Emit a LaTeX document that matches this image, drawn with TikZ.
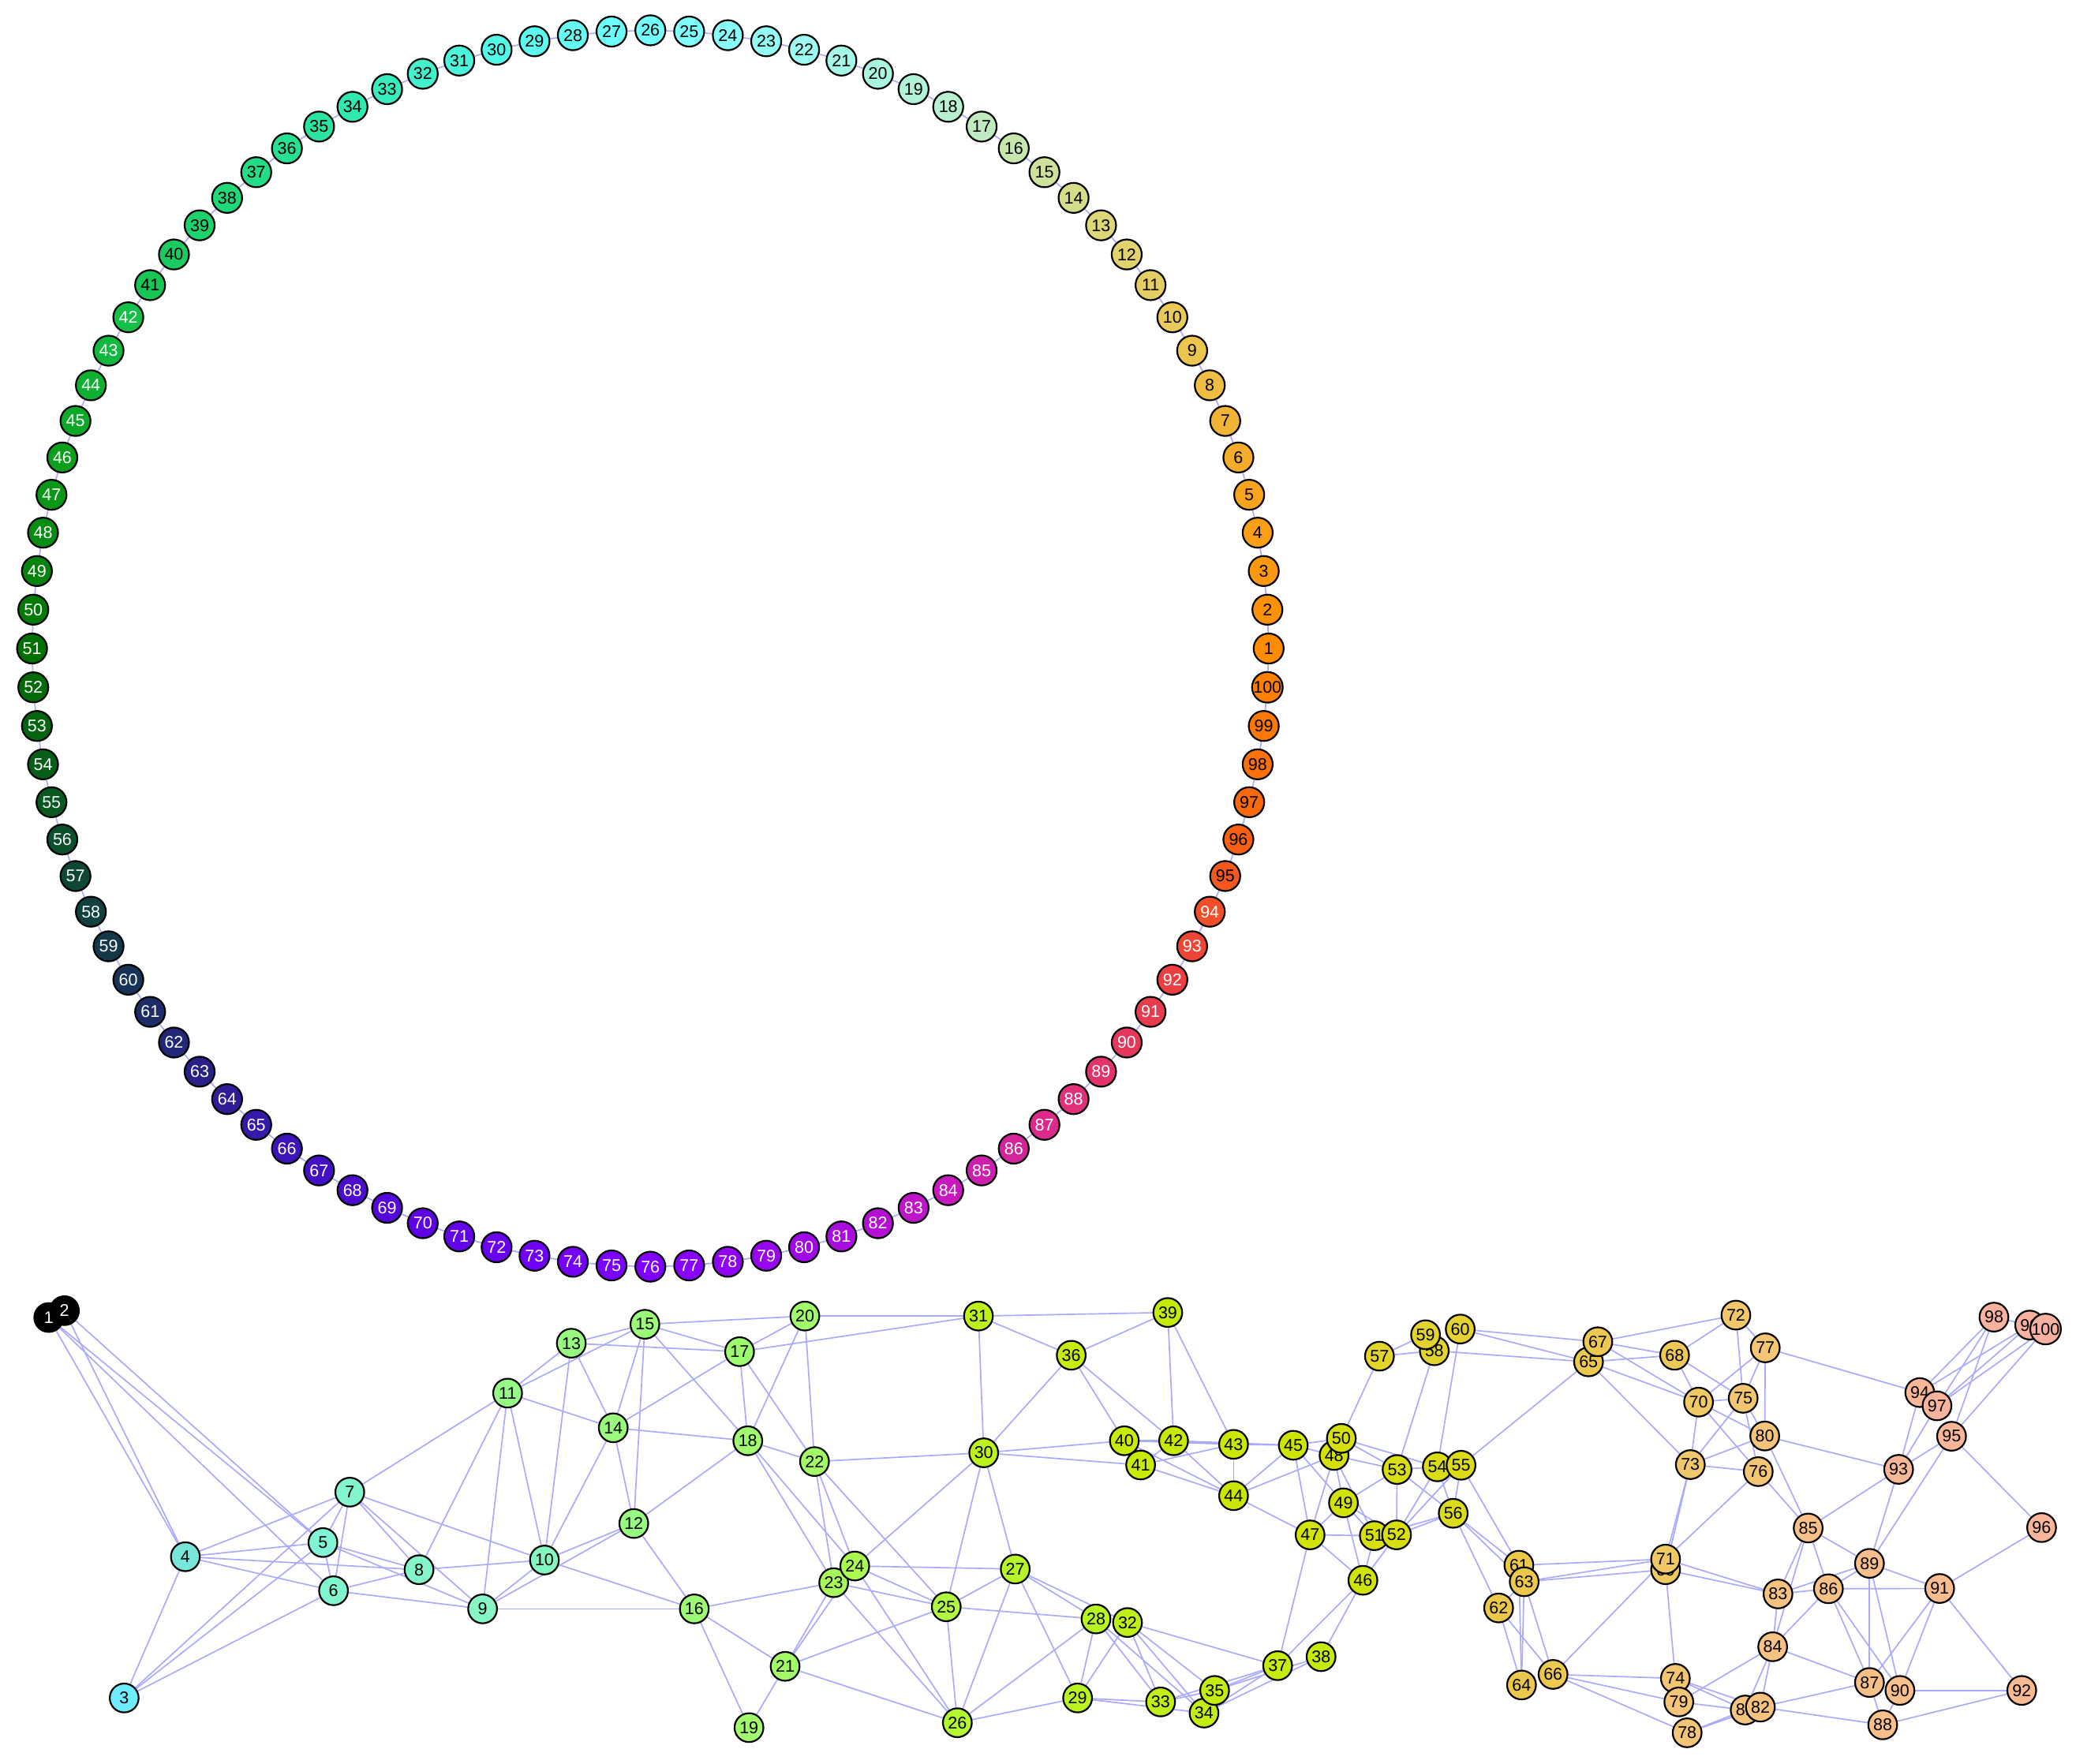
\documentclass[tikz,border=0pt]{standalone}
\usepackage{fontspec}
\setmainfont{Liberation Sans}
\pgfdeclarelayer{bglayer}
\pgfdeclarelayer{edgelayer}
\pgfsetlayers{bglayer,edgelayer,main}
\newcommand\ndfont{\fontsize{12.8}{12.8}\selectfont}
\definecolor{edgec}{RGB}{170,170,252}
% ring colours
\definecolor{R1}{HTML}{FF8C00}\definecolor{R5}{HTML}{F8A41E}\definecolor{R9}{HTML}{ECC450}
\definecolor{R13}{HTML}{DCD878}\definecolor{R18}{HTML}{B8F0D0}\definecolor{R22}{HTML}{9CFAF0}
\definecolor{R26}{HTML}{74FFFF}\definecolor{R30}{HTML}{54F8E8}\definecolor{R34}{HTML}{30E8B0}
\definecolor{R38}{HTML}{20D878}\definecolor{R42}{HTML}{14C048}\definecolor{R46}{HTML}{0CA01E}
\definecolor{R51}{HTML}{007000}\definecolor{R55}{HTML}{085820}\definecolor{R59}{HTML}{143848}
\definecolor{R63}{HTML}{282288}\definecolor{R66}{HTML}{3C14B8}\definecolor{R70}{HTML}{5C04E4}
\definecolor{R76}{HTML}{8000FF}\definecolor{R80}{HTML}{A008E8}\definecolor{R84}{HTML}{C818C0}
\definecolor{R88}{HTML}{E03078}\definecolor{R92}{HTML}{EA3E40}\definecolor{R96}{HTML}{F66014}
\definecolor{R100}{HTML}{FF8000}
% graph colours
\definecolor{G3}{HTML}{70ECFF}\definecolor{G4}{HTML}{78E6D8}\definecolor{G5}{HTML}{80F4D4}
\definecolor{G10}{HTML}{86F6C0}\definecolor{G11}{HTML}{96FA86}\definecolor{G16}{HTML}{9CFA74}
\definecolor{G22}{HTML}{A4FA64}\definecolor{G24}{HTML}{AAF850}\definecolor{G26}{HTML}{B4F630}
\definecolor{G28}{HTML}{B8F420}\definecolor{G31}{HTML}{BEF01C}\definecolor{G35}{HTML}{C4EC10}
\definecolor{G40}{HTML}{C8EA06}\definecolor{G44}{HTML}{CCE604}\definecolor{G48}{HTML}{D2E208}
\definecolor{G52}{HTML}{D8DE10}\definecolor{G56}{HTML}{DCDA1C}\definecolor{G57}{HTML}{E2D42A}
\definecolor{G60}{HTML}{E4D232}\definecolor{G61}{HTML}{EAC848}\definecolor{G67}{HTML}{ECC852}
\definecolor{G70}{HTML}{F0C864}\definecolor{G75}{HTML}{F2C670}\definecolor{G80}{HTML}{F4C47C}
\definecolor{G85}{HTML}{F6C086}\definecolor{G90}{HTML}{F8BE8C}\definecolor{G93}{HTML}{F8B896}
\definecolor{G100}{HTML}{F8B0A0}
\newcommand\rseg[5]{%
  \foreach \i in {#1,...,#2}{%
    \pgfmathsetmacro\pp{100*(#3-\i)/(#3-#1)}%
    \pgfmathtruncatemacro\wt{and(\i>=42,\i<=94)}%
    \ifnum\wt=1 \def\tc{white}\else\def\tc{black}\fi
    \colorlet{tmpc}{#4!\pp!#5}%
    \node[ringnode,fill=tmpc,text=\tc] (r\i) at ({491.2+467*cos((\i-1)*3.6)},{489.9-467*sin((\i-1)*3.6)}) {\i};
  }}
\newcommand\gseg[5]{%
  \foreach \i in {#1,...,#2}{%
    \pgfmathsetmacro\pp{100*(#3-\i)/(#3-#1)}%
    \colorlet{tmpc}{#4!\pp!#5}%
    \node[gnode,fill=tmpc] (g\i) at (p\i) {\i};
  }}
\begin{document}
\begin{tikzpicture}[x=1pt,y=-1pt,
  edge/.style={draw=edgec,line width=1pt},
  ringnode/.style={circle,draw=black,line width=1.3pt,minimum size=22.7pt,inner sep=0pt,font=\ndfont},
  gnode/.style={circle,draw=black,line width=1.3pt,minimum size=21.8pt,inner sep=0pt,font=\ndfont,text=black}]
\begin{pgfonlayer}{bglayer}
\fill[white] (0,0) rectangle (1568,1332);
\end{pgfonlayer}
\useasboundingbox (0,0) rectangle (1568,1332);

% ---------------- ring ----------------
\rseg{1}{4}{5}{R1}{R5}
\rseg{5}{8}{9}{R5}{R9}
\rseg{9}{12}{13}{R9}{R13}
\rseg{13}{17}{18}{R13}{R18}
\rseg{18}{21}{22}{R18}{R22}
\rseg{22}{25}{26}{R22}{R26}
\rseg{26}{29}{30}{R26}{R30}
\rseg{30}{33}{34}{R30}{R34}
\rseg{34}{37}{38}{R34}{R38}
\rseg{38}{41}{42}{R38}{R42}
\rseg{42}{45}{46}{R42}{R46}
\rseg{46}{50}{51}{R46}{R51}
\rseg{51}{54}{55}{R51}{R55}
\rseg{55}{58}{59}{R55}{R59}
\rseg{59}{62}{63}{R59}{R63}
\rseg{63}{65}{66}{R63}{R66}
\rseg{66}{69}{70}{R66}{R70}
\rseg{70}{75}{76}{R70}{R76}
\rseg{76}{79}{80}{R76}{R80}
\rseg{80}{83}{84}{R80}{R84}
\rseg{84}{87}{88}{R84}{R88}
\rseg{88}{91}{92}{R88}{R92}
\rseg{92}{95}{96}{R92}{R96}
\rseg{96}{100}{100}{R96}{R100}

\begin{pgfonlayer}{edgelayer}
\foreach \i in {1,...,99}{\pgfmathtruncatemacro\j{\i+1}\draw[edge] (r\i)--(r\j);}
\draw[edge] (r100)--(r1);
\end{pgfonlayer}

% ---------------- graph ----------------
\foreach \i/\x/\y in {1/36.8/995.3, 2/48.7/990.1, 3/93.8/1282.7, 4/140.0/1176.0, 5/243.9/1165.3,
 6/251.9/1201.7, 7/264.2/1127.2, 8/316.5/1185.8, 9/364.5/1215.4, 10/411.2/1178.5,
 11/383.4/1052.4, 12/478.7/1150.9, 13/431.5/1014.7, 14/463.2/1078.6, 15/487.1/1000.4,
 16/524.4/1215.4, 17/558.6/1021.1, 18/564.8/1088.4, 19/565.7/1305.1, 20/607.9/994.2,
 21/593.0/1258.8, 22/615.2/1104.1, 23/629.7/1195.6, 24/645.6/1183.0, 25/714.7/1213.8,
 26/723.1/1301.4, 27/766.8/1185.3, 28/827.8/1223.0, 29/813.9/1282.7, 30/743.0/1097.5,
 31/739.0/994.2, 32/851.6/1225.7, 33/876.6/1285.7, 34/909.4/1294.1, 35/917.4/1277.0,
 36/809.1/1023.8, 37/965.0/1258.3, 38/997.8/1251.5, 39/882.0/991.5, 40/849.2/1088.4,
 41/861.5/1106.7, 42/886.4/1088.4, 43/931.7/1091.1, 44/931.7/1129.9, 45/976.8/1091.8,
 46/1029.4/1193.8, 47/989.5/1159.5, 48/1007.6/1099.5, 49/1014.7/1135.3, 50/1013.1/1086.6,
 51/1038.0/1160.1, 52/1054.8/1159.5, 53/1055.2/1110.1, 54/1085.6/1108.1, 55/1103.5/1106.9,
 56/1097.6/1143.2, 57/1041.9/1024.5, 58/1083.3/1020.4, 59/1076.7/1008.3, 60/1102.9/1004.0,
 61/1147.2/1182.4, 62/1131.9/1214.7, 63/1151.2/1194.9, 64/1149.2/1272.9, 65/1199.8/1028.8,
 66/1173.0/1264.9, 67/1206.8/1013.6, 68/1264.8/1023.8, 69/1258.0/1185.8, 70/1282.9/1059.2,
 71/1258.0/1177.8, 72/1311.1/993.5, 73/1276.7/1106.4, 74/1265.4/1267.9, 75/1316.6/1056.3,
 76/1328.0/1111.7, 77/1333.3/1018.2, 78/1274.3/1309.0, 79/1268.0/1285.7, 80/1332.9/1084.8,
 81/1318.1/1291.8, 82/1329.6/1289.6, 83/1342.9/1204.1, 84/1338.9/1244.0, 85/1365.7/1154.3,
 86/1381.0/1200.2, 87/1412.0/1271.0, 88/1422.0/1303.0, 89/1412.0/1181.0, 90/1435.0/1277.0,
 91/1465.0/1200.0, 92/1527.0/1277.0, 93/1434.0/1110.0, 94/1450.0/1052.0, 95/1474.0/1085.0,
 96/1542.0/1154.0, 97/1463.0/1062.0, 98/1506.0/995.0, 99/1533.0/1001.0, 100/1545.0/1004.0}
 {\coordinate (p\i) at (\x,\y);}

\node[gnode,fill=black,text=white] (g1) at (p1) {1};
\node[gnode,fill=black,text=white] (g2) at (p2) {2};
\gseg{3}{3}{4}{G3}{G4}
\gseg{4}{4}{5}{G4}{G5}
\gseg{5}{9}{10}{G5}{G10}
\gseg{10}{10}{11}{G10}{G11}
\gseg{11}{15}{16}{G11}{G16}
\gseg{16}{21}{22}{G16}{G22}
\gseg{22}{23}{24}{G22}{G24}
\gseg{24}{25}{26}{G24}{G26}
\gseg{26}{27}{28}{G26}{G28}
\gseg{28}{30}{31}{G28}{G31}
\gseg{31}{34}{35}{G31}{G35}
\gseg{35}{39}{40}{G35}{G40}
\gseg{40}{43}{44}{G40}{G44}
\gseg{44}{47}{48}{G44}{G48}
\gseg{48}{51}{52}{G48}{G52}
\gseg{52}{55}{56}{G52}{G56}
\gseg{56}{56}{57}{G56}{G57}
\gseg{57}{59}{60}{G57}{G60}
\gseg{60}{60}{61}{G60}{G61}
\gseg{61}{66}{67}{G61}{G67}
\gseg{67}{69}{70}{G67}{G70}
\gseg{70}{74}{75}{G70}{G75}
\gseg{75}{79}{80}{G75}{G80}
\gseg{80}{84}{85}{G80}{G85}
\gseg{85}{89}{90}{G85}{G90}
\gseg{90}{92}{93}{G90}{G93}
\gseg{93}{100}{100}{G93}{G100}

\begin{pgfonlayer}{edgelayer}
\foreach \a/\b in {1/4,2/4,1/5,2/5,1/6,
3/4,3/5,3/6,3/7, 4/5,4/6,4/7,4/8, 5/6,5/7,5/8,5/9, 6/7,6/8,6/9,
7/8,7/9,7/10,7/11, 8/10,8/11, 9/10,9/11,9/12,9/16,
10/11,10/12,10/13,10/14,10/16, 11/13,11/14,11/15,
12/14,12/15,12/16,12/18, 13/14,13/15,13/17, 14/15,14/17,14/18,
15/17,15/18,15/20, 16/19,16/21,16/23, 17/18,17/20,17/22,17/31,
18/20,18/22,18/23,18/24, 19/21, 20/22,20/31,
21/23,21/24,21/25,21/26, 22/23,22/24,22/25,22/30, 23/25,23/26,
24/25,24/26,24/27,24/30, 25/26,25/27,25/28,25/30, 26/27,26/28,26/29,
27/28,27/29,27/30,27/32, 28/29,28/33,28/34, 29/32,29/33,29/34,
30/31,30/36,30/40,30/41, 31/36,31/39, 32/33,32/34,32/35,32/37,
33/35,33/37,34/37,35/37,34/38,35/38, 36/39,36/40,36/42,
37/46,37/47,38/46, 39/42,39/43, 40/42,40/43,40/44, 41/42,41/43,41/44,
42/43,42/44,42/45, 43/44,43/45, 44/45,44/47,44/48,
45/47,45/48,45/49,45/50, 46/47,46/49,46/51,46/52, 47/48,47/49,47/51,
48/49,48/51,48/53, 49/51,49/52,49/53, 50/53,50/54,50/57,
51/56,52/53,52/54,52/55,52/56, 53/54,53/56,53/58,
54/56,54/60,55/56,55/61,55/65, 56/61,56/62,56/63, 57/58,57/59,
58/65,60/65,60/67, 61/63,61/64,61/71, 62/63,62/64,62/66,
63/64,63/66,63/69,63/71, 65/67,65/68,65/70,65/73,
66/71,66/74,66/78,66/79, 67/68,67/70,67/72, 68/70,68/72,68/75,
69/73,69/74,69/83, 70/73,70/75,70/76,70/77,70/80, 71/73,71/76,71/83,
72/75,72/77, 73/75,73/76,73/80, 74/79,74/81,74/82, 75/76,75/77,75/80,
76/85, 77/80,77/94, 78/81,78/82, 79/81,79/84, 80/85,80/93,
81/84,82/84,83/84,83/85,84/85,83/86,83/89, 84/86,84/87, 82/87,82/88,
85/86,85/89,85/93, 86/87,86/89,86/90,86/91, 87/88,87/89,87/91,
88/90,88/92, 89/90,89/91,89/93,89/95, 90/91,90/92, 91/92,91/96,
93/94,93/95,93/97, 94/98,94/99, 95/96,95/98,95/100,
97/98,97/99,97/100, 98/99}
 {\draw[edge] (g\a)--(g\b);}
\end{pgfonlayer}
\end{tikzpicture}
\end{document}
